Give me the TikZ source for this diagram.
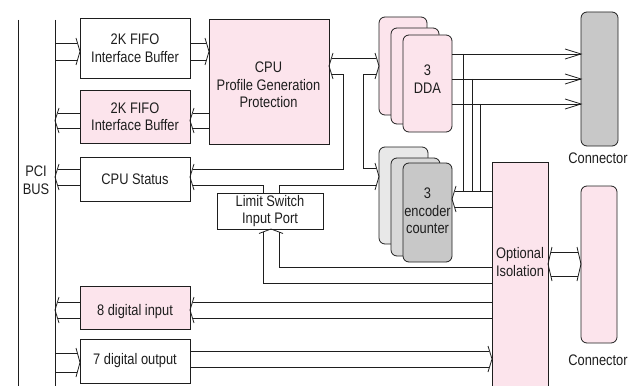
\documentclass[tikz,border=0pt]{standalone}
\usepackage{fontspec}
\setmainfont[FakeStretch=0.84]{Liberation Sans}
\definecolor{pinkf}{RGB}{252,228,236}
\definecolor{conngray}{RGB}{200,200,200}
\definecolor{encA}{RGB}{232,232,232}
\definecolor{encB}{RGB}{216,216,216}
\definecolor{encC}{RGB}{200,200,200}
\definecolor{ink}{RGB}{30,30,30}
\newcommand\fs{\fontsize{15.3}{17.5}\selectfont}
% wide (hollow) arrow pointing right: from x #1 to tip x #2, lines at y #3 and #4
\newcommand\wideR[4]{%
  \draw[ln] (#1,#3) -- (#2-3,#3) (#1,#4) -- (#2-3,#4);
  \draw[ln] (#2-4,#3-5) -- (#2,{(#3+#4)/2}) -- (#2-4,#4+5);}
% wide arrow pointing left
\newcommand\wideL[4]{%
  \draw[ln] (#1,#3) -- (#2+3,#3) (#1,#4) -- (#2+3,#4);
  \draw[ln] (#2+4,#3-5) -- (#2,{(#3+#4)/2}) -- (#2+4,#4+5);}
% chevrons only
\newcommand\chevR[3]{\draw[ln] (#1-4,#2-5) -- (#1,{(#2+#3)/2}) -- (#1-4,#3+5);}
\newcommand\chevL[3]{\draw[ln] (#1+4,#2-5) -- (#1,{(#2+#3)/2}) -- (#1+4,#3+5);}
% open line arrow pointing right
\newcommand\barbR[2]{\draw[ln] (#1-16,#2-5) -- (#1,#2) -- (#1-16,#2+5);}
\begin{document}
\begin{tikzpicture}[x=1pt,y=-1pt,
  ln/.style={line width=0.8pt,draw=ink,line join=miter},
  box/.style={draw=ink,line width=0.8pt,align=center,font=\fs,text=ink,inner sep=0pt},
  card/.style={box,rounded corners=6pt},
  txt/.style={align=center,font=\fs,text=ink,inner sep=0pt}]
\useasboundingbox (0,0) rectangle (628,385);
\clip (0,0) rectangle (628,385);

% PCI bus
\coordinate (busLtop) at (18,20);
\coordinate (busLbot) at (18,390);
\coordinate (busRtop) at (55,20);
\coordinate (busRbot) at (55,390);
\draw[ln] (busLtop) -- (busLbot);
\draw[ln] (busRtop) -- (busRbot);
\node[txt] (pci) at (36,180) {PCI\\BUS};

% left column boxes
\node[box,minimum width=110pt,minimum height=60pt] (fifoA) at (135,48) {2K FIFO\\Interface Buffer};
\node[box,fill=pinkf,minimum width=110pt,minimum height=53pt] (fifoB) at (135,116.5) {2K FIFO\\Interface Buffer};
\node[box,minimum width=110pt,minimum height=44pt] (cpustat) at (135,179) {CPU Status};
\node[box,fill=pinkf,minimum width=110pt,minimum height=43pt] (din) at (135,307.5) {};
\node[txt] (dintxt) at (135,311.5) {8 digital input};
\node[box,minimum width=110pt,minimum height=44pt] (dout) at (135,361) {7 digital output};

% CPU
\node[box,fill=pinkf,minimum width=120pt,minimum height=125pt] (cpu) at (269,81.5) {};
\node[txt] (cputxt) at (268.5,85) {CPU\\Profile Generation\\Protection};

% Limit switch
\node[box,minimum width=106pt,minimum height=36pt] (limit) at (270,211) {Limit Switch\\Input Port};

% DDA stack
\node[card,fill=pinkf,minimum width=48pt,minimum height=98pt] (ddaA) at (403,66) {};
\node[card,fill=pinkf,minimum width=48pt,minimum height=96pt] (ddaB) at (415,76) {};
\node[card,fill=pinkf,minimum width=49pt,minimum height=97pt] (ddaC) at (427.5,83.5) {};
\node[txt] (ddatxt) at (427.5,79) {3\\DDA};

% encoder stack
\node[card,fill=encA,minimum width=49pt,minimum height=97pt] (encA) at (403.5,195.5) {};
\node[card,fill=encB,minimum width=49pt,minimum height=98pt] (encB) at (415.5,207) {};
\node[card,fill=encC,minimum width=49pt,minimum height=99pt] (encC) at (427.5,212.5) {};
\node[txt] (enctxt) at (427.5,211) {3\\encoder\\counter};

% isolation
\node[box,fill=pinkf,minimum width=56pt,minimum height=230pt] (iso) at (520,277) {};
\node[txt] (isotxt) at (520,262) {Optional\\Isolation};

% connectors
\node[card,fill=conngray,minimum width=37pt,minimum height=134pt] (connA) at (599.5,79) {};
\node[txt] (connAtxt) at (598,158) {Connector};
\node[card,fill=pinkf,minimum width=36pt,minimum height=157pt] (connB) at (599,264.5) {};
\node[txt] (connBtxt) at (598,360) {Connector};

% bus -> fifo A -> CPU
\wideR{55}{80}{43}{60}
\wideR{190}{209}{43}{60}
% CPU -> fifo B -> bus
\wideL{209}{190}{113}{128}
\wideL{80}{55}{113}{128}
% CPU status -> bus
\wideL{80}{55}{169}{185}

% CPU <-> DDA
\chevL{329}{58}{74}
\chevR{379}{58}{74}
\draw[ln] (332,58) -- (376,58);
% CPU lower line -> down -> CPU status upper line
\draw[ln] (332,74) -- (343,74) -- (343,169) -- (193,169);
\chevL{190}{169}{185}
% limit switch -> CPU status lower line
\draw[ln] (263,193) -- (263,185) -- (193,185);
% DDA lower line -> down -> encoder upper line
\draw[ln] (376,74) -- (363,74) -- (363,168) -- (376,168);
\chevR{379}{168}{185}
% limit switch -> encoder lower line
\draw[ln] (279,193) -- (279,185) -- (376,185);

% DDA -> connector A
\foreach \yy in {54,79,104} {
  \draw[ln] (452,\yy) -- (581,\yy);
  \barbR{581}{\yy}
}
\draw[ln] (463,54) -- (463,191);
\draw[ln] (472,79) -- (472,191);
\draw[ln] (480,104) -- (480,191);

% isolation -> encoder
\wideL{492}{452}{191}{207}

% isolation <-> connector B
\draw[ln] (551,252) -- (578,252) (551,276) -- (578,276);
\chevL{548}{252}{276}
\chevR{581}{252}{276}

% isolation -> limit switch (up arrow)
\draw[ln] (259,233.5) -- (271,229) -- (283,233.5);
\draw[ln] (263,232) -- (263,283) -- (492,283);
\draw[ln] (279,232) -- (279,267) -- (492,267);

% isolation -> digital input -> bus
\wideL{492}{190}{302}{318}
\wideL{80}{55}{302}{318}
% bus -> digital output -> isolation
\wideR{55}{80}{353}{372}
\wideR{190}{492}{351}{367}
\end{tikzpicture}
\end{document}
